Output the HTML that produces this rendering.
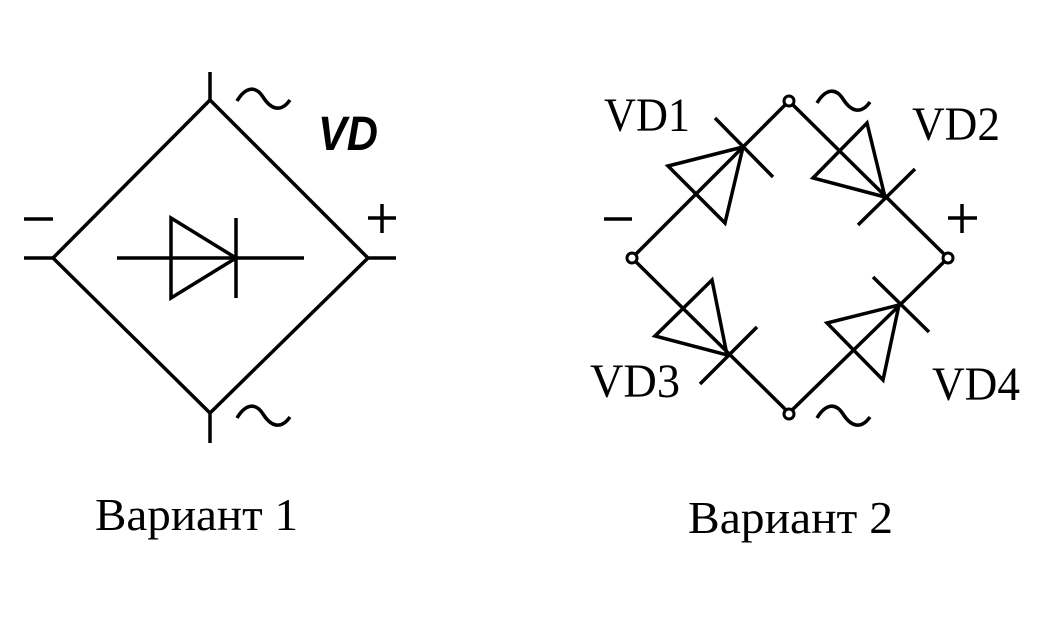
<!DOCTYPE html>
<html><head><meta charset="utf-8"><style>html,body{margin:0;padding:0;background:#fff}svg{display:block}</style></head>
<body>
<svg width="1048" height="628" viewBox="0 0 1048 628" xmlns="http://www.w3.org/2000/svg">
<rect width="1048" height="628" fill="#fff"/>
<g stroke="#000" stroke-width="3.5" fill="none" stroke-linejoin="miter">
  <!-- Variant 1 -->
  <polygon points="210,100 368,258 210,413 53,258"/>
  <line x1="210" y1="72" x2="210" y2="100"/>
  <line x1="210" y1="413" x2="210" y2="443"/>
  <line x1="24" y1="258" x2="53" y2="258"/>
  <line x1="368" y1="258" x2="396" y2="258"/>
  <line x1="24" y1="219" x2="53" y2="219"/>
  <line x1="368" y1="218" x2="396" y2="218"/>
  <line x1="382" y1="204" x2="382" y2="233"/>
  <line x1="117" y1="258" x2="304" y2="258"/>
  <polygon points="171,218 171,298 236,258"/>
  <line x1="236" y1="218" x2="236" y2="298"/>
  <path d="M237,101 C246,86 256,86 263,97 C270,108 280,114 290,100"/>
  <path d="M237,418 C246,403 256,403 263,414 C270,425 280,431 290,417"/>
  <!-- Variant 2 -->
  <polyline points="789,101 948,258 789,413 632,258 789,101"/>
  <line x1="715" y1="118" x2="773" y2="177"/>
  <polygon points="743,147 668,166 725,223"/>
  <line x1="915" y1="169" x2="858" y2="225"/>
  <polygon points="885,197 867,123 813,178"/>
  <line x1="757" y1="327" x2="700" y2="384"/>
  <polygon points="727,355 712,280 655,336"/>
  <line x1="873" y1="277" x2="929" y2="332"/>
  <polygon points="899,305 827,323 883,380"/>
  <line x1="604" y1="219" x2="632" y2="219"/>
  <line x1="948" y1="218" x2="977" y2="218"/>
  <line x1="962" y1="204" x2="962" y2="233"/>
  <path d="M817,103 C826,88 836,88 843,99 C850,110 860,116 870,102"/>
  <path d="M817,418 C826,403 836,403 843,414 C850,425 860,431 870,417"/>
</g>
<g fill="#fff" stroke="#000" stroke-width="3">
  <circle cx="789" cy="101" r="5"/><circle cx="632" cy="258" r="5"/>
  <circle cx="948" cy="258" r="5"/><circle cx="789" cy="414" r="5"/>
</g>
<g font-family="Liberation Sans, sans-serif" font-weight="bold" font-style="italic">
  <text x="318" y="150" font-size="48" textLength="60" lengthAdjust="spacingAndGlyphs">VD</text>
</g>
<g font-family="Liberation Serif, serif" fill="#000">
  <text x="604" y="131" font-size="48" textLength="86" lengthAdjust="spacingAndGlyphs">VD1</text>
  <text x="912" y="140" font-size="48" textLength="88" lengthAdjust="spacingAndGlyphs">VD2</text>
  <text x="590" y="397" font-size="48" textLength="90" lengthAdjust="spacingAndGlyphs">VD3</text>
  <text x="932" y="400" font-size="48" textLength="88" lengthAdjust="spacingAndGlyphs">VD4</text>
  <text x="95" y="530" font-size="46" textLength="203" lengthAdjust="spacingAndGlyphs">Вариант 1</text>
  <text x="688" y="533" font-size="46" textLength="205" lengthAdjust="spacingAndGlyphs">Вариант 2</text>
</g>
</svg>
</body></html>
